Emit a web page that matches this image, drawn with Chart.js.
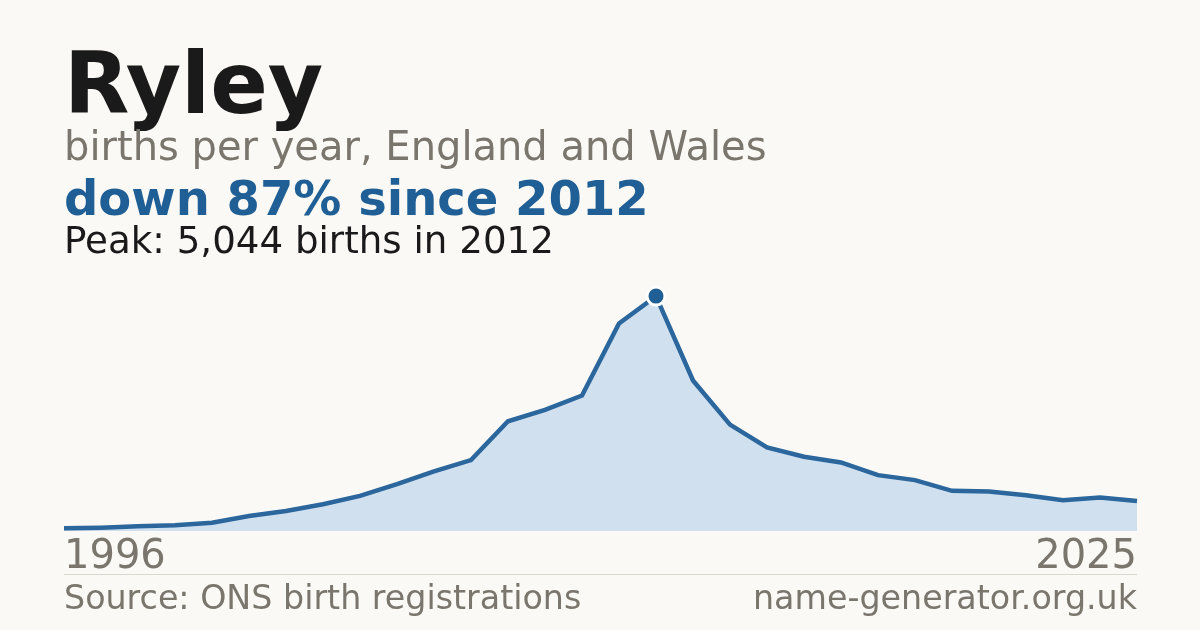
<!DOCTYPE html>
<html>
<head>
<meta charset="utf-8">
<script src="https://cdn.jsdelivr.net/npm/chart.js@4.4.1/dist/chart.umd.min.js"></script>
<style>
  html, body { margin:0; padding:0; background:#faf9f5; }
  body { width:1200px; height:630px; position:relative; overflow:hidden; font-family:"DejaVu Sans", sans-serif; }
  .t { position:absolute; left:64px; line-height:1; white-space:nowrap; }
  #title { top:41px; font-size:85px; font-weight:bold; color:#1a1a1a; }
  #sub { top:125.5px; font-size:40px; color:#7a756d; }
  #chg { top:174px; font-size:48px; font-weight:bold; color:#1f5f96; }
  #peak { top:222px; font-size:37.2px; color:#1a1a1a; }
  #sep { position:absolute; left:64px; width:1073px; top:574px; height:1px; background:#dcd8cf; }
  #src { top:581px; font-size:33.3px; color:#7a756d; }
  #site { top:581px; left:auto; right:63px; font-size:33.3px; color:#7a756d; }
  #wrap { position:absolute; left:0; top:0; width:1200px; height:630px; }
</style>
</head>
<body>
<div id="wrap"><canvas id="c" width="1200" height="630"></canvas></div>
<div class="t" id="title">Ryley</div>
<div class="t" id="sub">births per year, England and Wales</div>
<div class="t" id="chg">down 87% since 2012</div>
<div class="t" id="peak">Peak: 5,044 births in 2012</div>
<div id="sep"></div>
<div class="t" id="src">Source: ONS birth registrations</div>
<div class="t" id="site">name-generator.org.uk</div>
<script>
const years = [1996,1997,1998,1999,2000,2001,2002,2003,2004,2005,2006,2007,2008,2009,2010,2011,2012,2013,2014,2015,2016,2017,2018,2019,2020,2021,2022,2023,2024,2025];
const births = [58,71,101,123,179,323,431,575,754,1006,1279,1523,2356,2601,2910,4455,5044,3233,2285,1796,1595,1473,1200,1093,862,848,769,660,718,645];
const yMax = 5605;

const peakIndex = births.indexOf(Math.max(...births));

new Chart(document.getElementById('c'), {
  type: 'line',
  data: {
    labels: years.map(String),
    datasets: [{
      data: births,
      borderColor: '#2b669c',
      borderWidth: 4.5,
      backgroundColor: '#d0e0ef',
      fill: 'origin',
      tension: 0,
      clip: false,
      pointRadius: ctx => ctx.dataIndex === peakIndex ? 9 : 0,
      pointBackgroundColor: '#1f5f96',
      pointBorderColor: '#ffffff',
      pointBorderWidth: 3,
      pointHoverRadius: 0
    }]
  },
  options: {
    responsive: false,
    animation: false,
    events: [],
    layout: { padding: { left: 64, right: 63, top: 270, bottom: 45 } },
    plugins: { legend: { display: false }, tooltip: { enabled: false } },
    scales: {
      x: {
        grid: { display: false, drawTicks: false },
        border: { display: false },
        ticks: {
          autoSkip: false,
          maxRotation: 0,
          align: 'inner',
          padding: 3,
          color: '#7a756d',
          font: { family: 'DejaVu Sans', size: 40 },
          callback: function(v, i, arr) { return (i === 0 || i === arr.length - 1) ? this.getLabelForValue(v) : ''; }
        }
      },
      y: {
        display: false,
        min: 0,
        max: yMax
      }
    }
  }
});
</script>
</body>
</html>
